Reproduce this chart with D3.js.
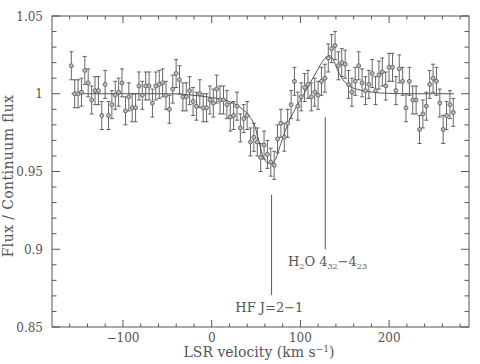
<!DOCTYPE html>
<html>
<head>
<meta charset="utf-8">
<script src="https://cdn.jsdelivr.net/npm/d3@7"></script>
<style>
  html, body { margin: 0; padding: 0; background: #fff; }
  svg { display: block; }
  text { font-family: "DejaVu Serif", "Liberation Serif", serif; fill: #555; }
</style>
</head>
<body>
<div id="chart"></div>
<script>
// LSR velocity of each spectral channel (km/s)
const velocity = [
  -158.2, -154.4, -150.6, -146.8, -143.0, -139.2, -135.3, -131.5, -127.7, -123.9,
  -120.1, -116.3, -112.5, -108.7, -104.9, -101.1, -97.2, -93.4, -89.6, -85.8,
  -82.0, -78.2, -74.4, -70.6, -66.8, -63.0, -59.1, -55.3, -51.5, -47.7,
  -43.9, -40.1, -36.3, -32.5, -28.7, -24.9, -21.0, -17.2, -13.4, -9.6,
  -5.8, -2.0, 1.8, 5.6, 9.4, 13.3, 17.1, 20.9, 24.7, 28.5,
  32.3, 36.1, 39.9, 43.7, 47.5, 51.4, 55.2, 59.0, 62.8, 66.6,
  70.4, 74.2, 78.0, 81.8, 85.6, 89.5, 93.3, 97.1, 100.9, 104.7,
  108.5, 112.3, 116.1, 119.9, 123.7, 127.6, 131.4, 135.2, 139.0, 142.8,
  146.6, 150.4, 154.2, 158.0, 161.8, 165.7, 169.5, 173.3, 177.1, 180.9,
  184.7, 188.5, 192.3, 196.1, 199.9, 203.8, 207.6, 211.4, 215.2, 219.0,
  222.8, 226.6, 230.4, 234.2, 238.0, 241.9, 245.7, 249.5, 253.3, 257.1,
  260.9, 264.7, 268.5, 272.3
];

// Flux / continuum flux per channel
const flux = [
  1.018, 1.000, 1.000, 1.001, 1.015, 1.007, 0.996, 1.002, 1.002, 0.986,
  1.006, 0.986, 0.993, 0.999, 1.001, 1.007, 0.989, 0.998, 0.991, 0.991,
  1.005, 0.999, 1.005, 1.005, 0.994, 1.005, 1.006,
  1.007, 0.999, 0.990, 1.003, 1.013, 1.009, 0.998, 0.998, 1.002, 0.995,
  0.992, 1.000, 0.991, 0.991, 0.996, 0.994, 1.003, 0.996, 0.996, 0.993,
  0.985, 0.986, 0.992, 0.978, 0.984, 0.986, 0.969, 0.972, 0.969, 0.959,
  0.967, 0.961, 0.956, 0.954, 0.971, 0.981, 0.972, 0.981, 0.993, 1.008,
  0.992, 0.998, 1.004, 1.006, 0.998, 1.001, 0.999, 1.008, 1.010,
  1.023, 1.029, 1.031, 1.018, 1.020, 1.019, 1.006, 1.001, 1.008, 1.018,
  1.007, 1.002, 1.006, 1.013, 1.002, 1.012, 1.014, 1.005, 1.017, 1.017,
  1.002, 1.016, 1.008, 0.991, 1.008, 0.996, 0.996, 0.977, 0.987, 0.992,
  1.006, 1.010, 1.008, 0.994, 0.977, 0.986, 0.993, 0.988
];

const fluxErr = 0.009;

// model profile
const modelVelocity = [-158, -100, -50, -20, 0, 20, 35, 42, 48, 53, 57, 62, 67, 71, 78, 86, 95, 103, 111, 118, 124, 129, 133, 137, 142, 148, 155, 163, 175, 190, 220, 273];
const modelFlux = [1.000, 1.000, 1.000, 0.999, 0.9975, 0.995, 0.990, 0.986, 0.980, 0.970, 0.961, 0.956, 0.955, 0.957, 0.968, 0.981, 0.991, 0.999, 1.007, 1.014, 1.020, 1.0235, 1.0245, 1.022, 1.015, 1.009, 1.005, 1.003, 1.0015, 1.0005, 1.000, 1.000];

const xMajor = [-100, 0, 100, 200];
const xMajorLabels = ['\u2212100', '0', '100', '200'];
const yMajor = [0.85, 0.9, 0.95, 1, 1.05];
const yMajorLabels = ['0.85', '0.9', '0.95', '1', '1.05'];

const width = 480, height = 364;
const margin = { top: 16, right: 11, bottom: 37, left: 52 };
const ink = '#555';

const svg = d3.select('#chart').append('svg')
  .attr('width', width)
  .attr('height', height);

const x = d3.scaleLinear().domain([-180, 290]).range([margin.left, width - margin.right]);
const y = d3.scaleLinear().domain([0.85, 1.05]).range([height - margin.bottom, margin.top]);

const x0 = x.range()[0], x1 = x.range()[1];
const y0 = y.range()[0], y1 = y.range()[1];

// frame
svg.append('rect')
  .attr('x', x0).attr('y', y1)
  .attr('width', x1 - x0).attr('height', y0 - y1)
  .attr('fill', 'none').attr('stroke', ink).attr('stroke-width', 1);

// ticks on all four sides, pointing inward
const xMinor = d3.range(-160, 290, 20).filter(v => !xMajor.includes(v));
const yMinor = d3.range(86, 105, 1).map(v => v / 100).filter(v => !yMajor.some(m => Math.abs(m - v) < 1e-9));

const ticks = svg.append('g').attr('stroke', ink).attr('stroke-width', 1);
function xTicks(vals, len) {
  vals.forEach(v => {
    ticks.append('line').attr('x1', x(v)).attr('x2', x(v)).attr('y1', y0).attr('y2', y0 - len);
    ticks.append('line').attr('x1', x(v)).attr('x2', x(v)).attr('y1', y1).attr('y2', y1 + len);
  });
}
function yTicks(vals, len) {
  vals.forEach(v => {
    ticks.append('line').attr('y1', y(v)).attr('y2', y(v)).attr('x1', x0).attr('x2', x0 + len);
    ticks.append('line').attr('y1', y(v)).attr('y2', y(v)).attr('x1', x1).attr('x2', x1 - len);
  });
}
xTicks(xMajor, 7);
xTicks(xMinor, 3.5);
yTicks(yMajor, 8);
yTicks(yMinor, 4.5);

// tick labels
svg.append('g').selectAll('text')
  .data(xMajor)
  .join('text')
  .attr('x', d => x(d))
  .attr('y', y0 + 15)
  .attr('text-anchor', 'middle')
  .attr('font-size', 12)
  .text((d, i) => xMajorLabels[i]);

svg.append('g').selectAll('text')
  .data(yMajor)
  .join('text')
  .attr('x', x0 - 9)
  .attr('y', d => y(d) + 4.5)
  .attr('text-anchor', 'end')
  .attr('font-size', 12)
  .text((d, i) => yMajorLabels[i]);

// axis titles
const xTitle = svg.append('text')
  .attr('x', 259)
  .attr('y', 357)
  .attr('text-anchor', 'middle')
  .attr('font-size', 14);
xTitle.append('tspan').text('LSR velocity (km s');
xTitle.append('tspan').attr('font-size', 9).attr('dy', -5).text('\u22121');
xTitle.append('tspan').attr('dy', 5).text(')');

svg.append('text')
  .attr('transform', 'translate(13,176) rotate(-90)')
  .attr('text-anchor', 'middle')
  .attr('font-size', 14)
  .attr('letter-spacing', 0.4)
  .text('Flux / Continuum flux');

// error bars
const points = velocity.map((v, i) => ({ v: v, f: flux[i] }));
const bars = svg.append('g').attr('stroke', ink).attr('stroke-width', 0.9);
points.forEach(d => {
  const cx = x(d.v), top = y(d.f + fluxErr), bot = y(d.f - fluxErr);
  bars.append('line').attr('x1', cx).attr('x2', cx).attr('y1', top).attr('y2', bot);
  bars.append('line').attr('x1', cx - 2).attr('x2', cx + 2).attr('y1', top).attr('y2', top);
  bars.append('line').attr('x1', cx - 2).attr('x2', cx + 2).attr('y1', bot).attr('y2', bot);
});

// model line
const model = modelVelocity.map((v, i) => [v, modelFlux[i]]);
svg.append('path')
  .datum(model)
  .attr('fill', 'none')
  .attr('stroke', ink)
  .attr('stroke-width', 1)
  .attr('d', d3.line().x(d => x(d[0])).y(d => y(d[1])).curve(d3.curveMonotoneX));

// data points
svg.append('g').selectAll('circle')
  .data(points)
  .join('circle')
  .attr('cx', d => x(d.v))
  .attr('cy', d => y(d.f))
  .attr('r', 2)
  .attr('fill', '#bbb')
  .attr('stroke', ink)
  .attr('stroke-width', 0.8);

// line identifications
const marks = svg.append('g').attr('stroke', ink).attr('stroke-width', 1);
marks.append('line').attr('x1', x(67.5)).attr('x2', x(67.5)).attr('y1', y(0.935)).attr('y2', y(0.8705));
marks.append('line').attr('x1', x(128)).attr('x2', x(128)).attr('y1', y(0.985)).attr('y2', y(0.900));

svg.append('text')
  .attr('x', x(65))
  .attr('y', 312)
  .attr('text-anchor', 'middle')
  .attr('font-size', 13)
  .text('HF J=2\u22121');

const h2o = svg.append('text')
  .attr('x', 288)
  .attr('y', 266)
  .attr('font-size', 13);
h2o.append('tspan').text('H');
h2o.append('tspan').attr('font-size', 8).attr('dy', 3).text('2');
h2o.append('tspan').attr('dy', -3).text('O  4');
h2o.append('tspan').attr('font-size', 8).attr('dy', 3).text('32');
h2o.append('tspan').attr('dy', -3).text('\u22124');
h2o.append('tspan').attr('font-size', 8).attr('dy', 3).text('23');
</script>
</body>
</html>
